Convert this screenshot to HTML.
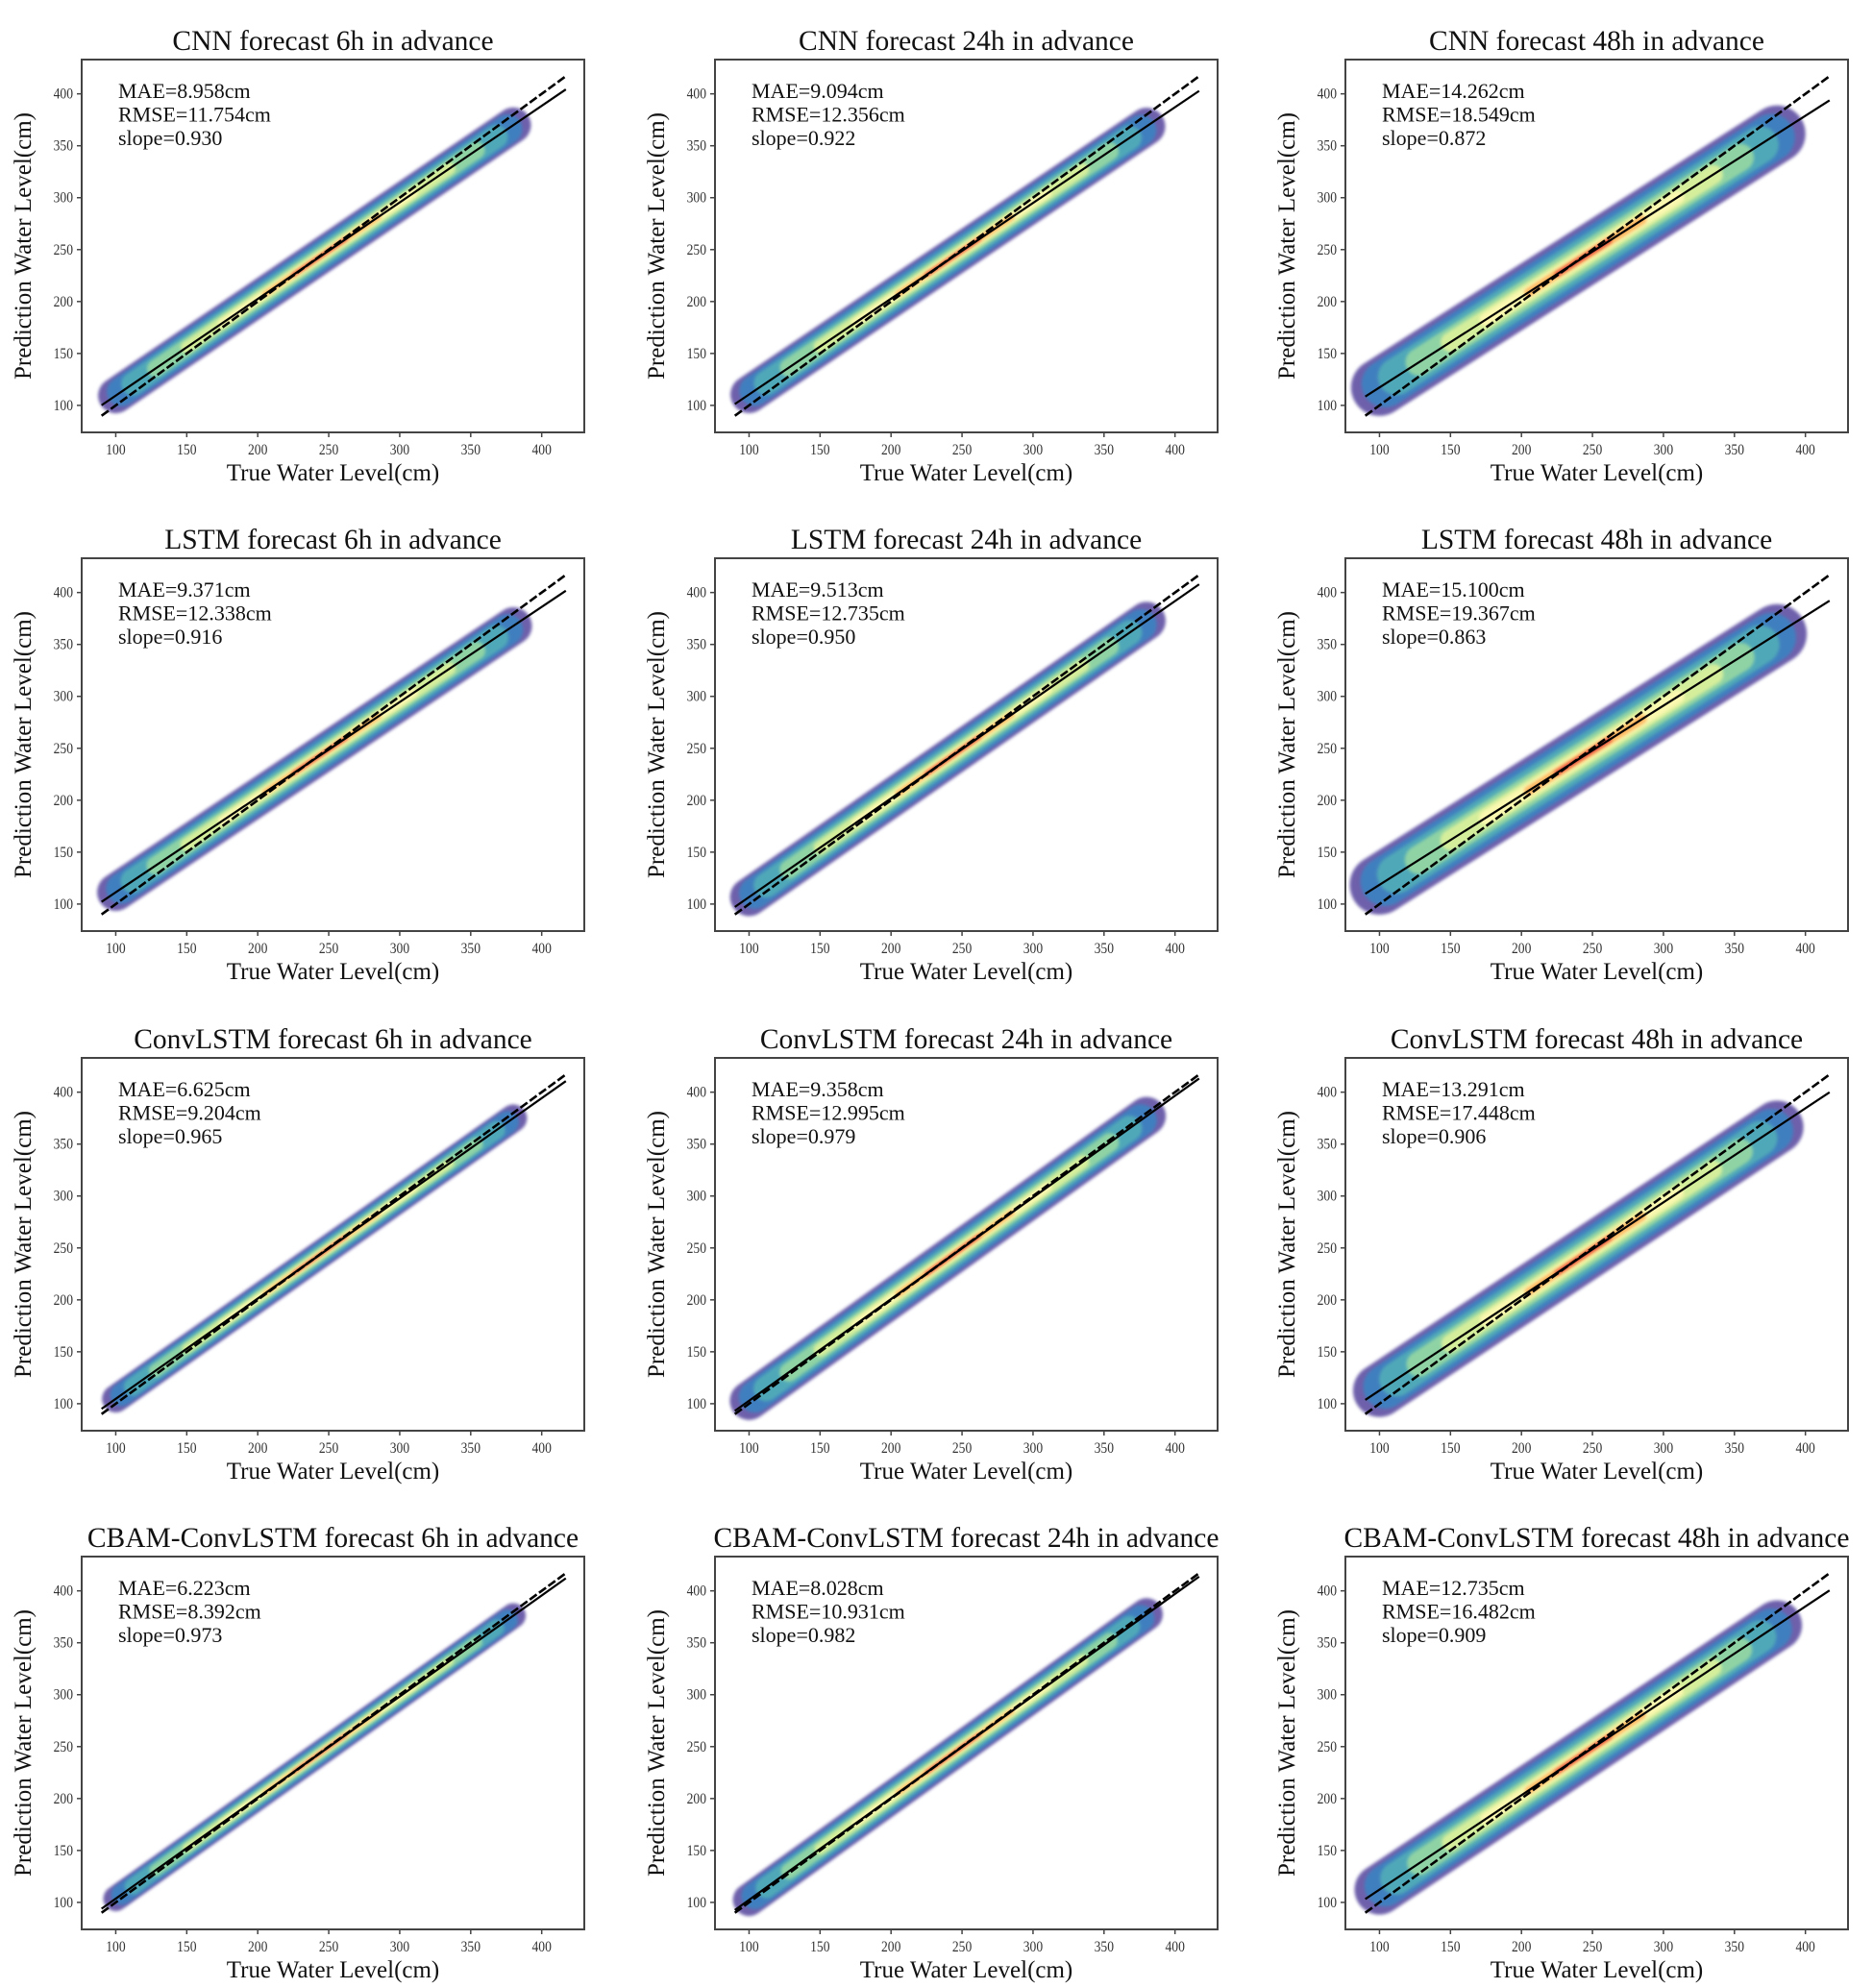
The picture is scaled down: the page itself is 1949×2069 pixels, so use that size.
<!DOCTYPE html>
<html><head><meta charset="utf-8"><style>
html,body{margin:0;padding:0;background:#fff;}
svg text{font-family:"Liberation Serif",serif;}
</style></head><body>
<svg id="fig" width="1949" height="2064" viewBox="0 0 1949 2064" xmlns="http://www.w3.org/2000/svg">
<defs><filter id="soft" x="-20%" y="-20%" width="140%" height="140%"><feGaussianBlur stdDeviation="1.5"/></filter></defs>
</svg>
<script>
const models = ["CNN","LSTM","ConvLSTM","CBAM-ConvLSTM"];
const horizons = ["6h","24h","48h"];
const maeValues = [[8.958,9.094,14.262],[9.371,9.513,15.100],[6.625,9.358,13.291],[6.223,8.028,12.735]];
const rmseValues = [[11.754,12.356,18.549],[12.338,12.735,19.367],[9.204,12.995,17.448],[8.392,10.931,16.482]];
const slopeValues = [[0.930,0.922,0.872],[0.916,0.950,0.863],[0.965,0.979,0.906],[0.973,0.982,0.909]];
const xTicks = [100,150,200,250,300,350,400];
const yTicks = [100,150,200,250,300,350,400];

const NS="http://www.w3.org/2000/svg";
const svg=document.getElementById('fig');
function mk(tag,attrs,parent){const e=document.createElementNS(NS,tag);for(const k in attrs)e.setAttribute(k,attrs[k]);(parent||svg).appendChild(e);return e;}
const colLeft=[85,744,1400], rowTop=[62,581,1101,1620], W=523, H=388;
const xMin=76,xMax=430,yMin=74,yMax=433,meanLevel=235;
// density layers: [color, halfwidth factor (×RMSE), x start, x end, opacity]
const layers=[["#5e4fa2",1.75,100,380,0.9],["#3f7fbf",1.45,104,376,1],["#4fa8b8",1.15,112,368,1],["#8fd3a4",0.85,128,354,1],["#d5ee9b",0.6,150,335,1],["#fbf8b0",0.4,175,310,1],["#fdb863",0.26,205,285,1],["#e0453f",0.14,225,262,1]];

for(let r=0;r<4;r++)for(let c=0;c<3;c++){
  const L=colLeft[c],T=rowTop[r];
  const g=mk('g',{});
  
  
  const sx=v=>L+(v-xMin)/(xMax-xMin)*W;
  const sy=v=>T+H-(v-yMin)/(yMax-yMin)*H;
  const s=slopeValues[r][c], b=meanLevel*(1-s), rm=rmseValues[r][c];
  const clip='clip'+r+c;
  const cp=mk('clipPath',{id:clip},g);mk('rect',{x:L,y:T,width:W,height:H},cp);
  const cloud=mk('g',{'clip-path':'url(#'+clip+')'},g);
  
  
  const pxX=W/(xMax-xMin), pxY=H/(yMax-yMin);
  const cosT=pxX/Math.sqrt(pxX*pxX+(s*pxY)*(s*pxY));
  layers.forEach((ly,i)=>{
    const x1=ly[2],x2=ly[3];
    const ln=mk('line',{x1:sx(x1),y1:sy(s*x1+b),x2:sx(x2),y2:sy(s*x2+b),stroke:ly[0],'stroke-width':2*ly[1]*rm*pxY*cosT,'stroke-linecap':'round',opacity:ly[4],filter:'url(#soft)'},cloud);
    
    
  });
  const d1=mk('line',{x1:sx(90),y1:sy(90),x2:sx(417),y2:sy(417),stroke:'#000','stroke-width':2.6,'stroke-dasharray':'9,3'},g);
  
  
  const f1=mk('line',{x1:sx(90),y1:sy(s*90+b),x2:sx(417),y2:sy(s*417+b),stroke:'#000','stroke-width':2.2},g);
  
  
  const fr=mk('rect',{x:L,y:T,width:W,height:H,fill:'none',stroke:'#444','stroke-width':2},g);
  
  
  xTicks.forEach(v=>{
    mk('line',{x1:sx(v),y1:T+H,x2:sx(v),y2:T+H+5,stroke:'#444','stroke-width':1.5},g);
    const t=mk('text',{x:sx(v),y:T+H+23,'font-size':16,'text-anchor':'middle',fill:'#333',transform:`translate(${sx(v)},0) scale(0.85,1) translate(${-sx(v)},0)`},g);
    t.textContent=v;
    
    
  });
  yTicks.forEach(v=>{
    mk('line',{x1:L-5,y1:sy(v),x2:L,y2:sy(v),stroke:'#444','stroke-width':1.5},g);
    const t=mk('text',{x:L-9,y:sy(v)+5,'font-size':16,'text-anchor':'end',fill:'#333',transform:`translate(${L-9},0) scale(0.85,1) translate(${-(L-9)},0)`},g);
    t.textContent=v;
    
    
  });
  const ti=mk('text',{x:L+W/2,y:T-10,'font-size':29.5,'text-anchor':'middle',fill:'#111'},g);
  ti.textContent=models[r]+' forecast '+horizons[c]+' in advance';
  
  
  const xl=mk('text',{x:L+W/2,y:T+H+50,'font-size':25,'text-anchor':'middle',fill:'#111'},g);
  xl.textContent='True Water Level(cm)';
  
  
  const yx=L-53, yy=T+H/2;
  const yl=mk('text',{x:yx,y:yy,'font-size':25,'text-anchor':'middle',fill:'#111',transform:`rotate(-90 ${yx} ${yy})`},g);
  yl.textContent='Prediction Water Level(cm)';
  
  
  const ann=['MAE='+maeValues[r][c].toFixed(3)+'cm','RMSE='+rmseValues[r][c].toFixed(3)+'cm','slope='+slopeValues[r][c].toFixed(3)];
  ann.forEach((s2,i)=>{
    const t=mk('text',{x:L+38,y:T+40+i*24.5,'font-size':22,fill:'#111'},g);
    t.textContent=s2;
    
    
  });
}
</script>
</body></html>
